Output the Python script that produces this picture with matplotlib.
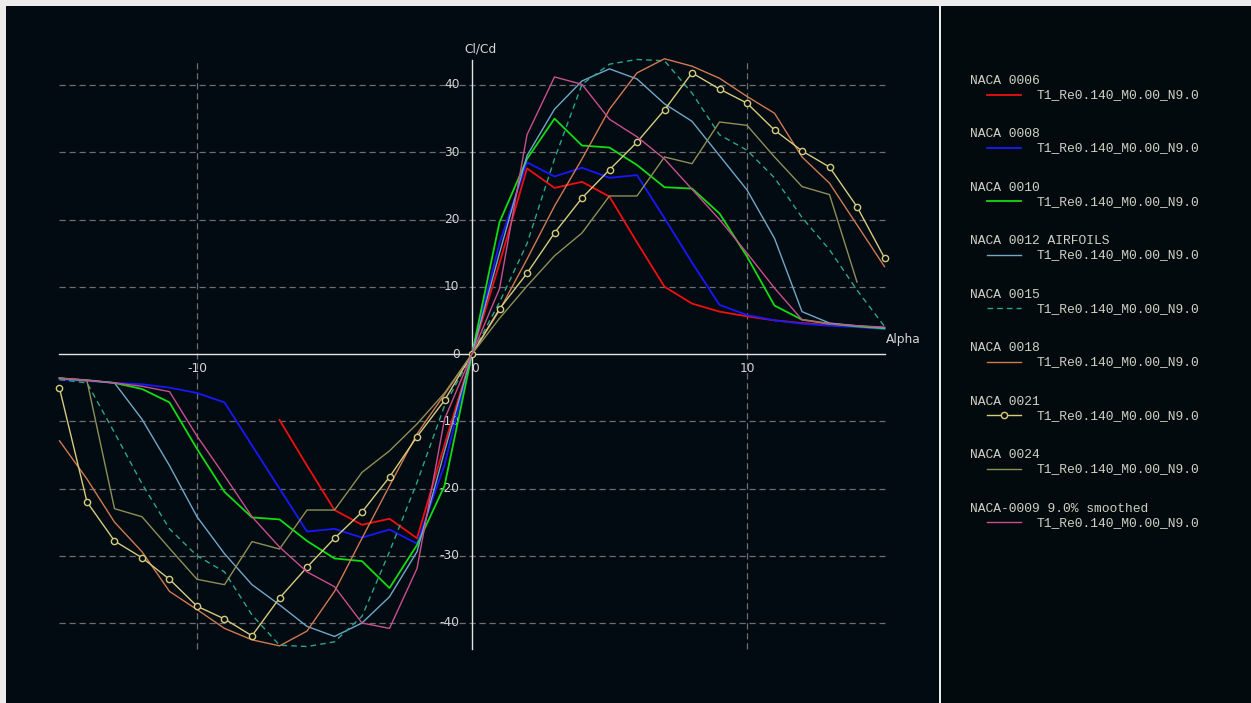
import numpy as np
import matplotlib
matplotlib.use("Agg")
import matplotlib.pyplot as plt

nan = np.nan

# angle of attack [deg]
ALPHA = list(range(-15, 16))

# Cl/Cd per foil (nan = no converged point)
NACA_0006 = [nan, nan, nan, nan, nan, nan, nan, nan, -9.8, -16.6, -23.2, -25.4, -24.5, -27.4, -13.5,
             0.0, 13.5, 27.6, 24.7, 25.6, 23.4, 16.6, 10.0, 7.5, 6.3, 5.6, 5.0, 4.6, 4.3, 4.1, 3.8]
NACA_0008 = [-3.8, -4.0, -4.3, -4.5, -5.0, -5.8, -7.2, -13.6, -20.0, -26.4, -26.0, -27.3, -26.1, -28.2, -16.5,
             0.0, 16.5, 28.5, 26.4, 27.7, 26.2, 26.6, 20.2, 13.6, 7.3, 5.8, 5.0, 4.5, 4.2, 4.0, 3.7]
NACA_0010 = [-3.6, -3.9, -4.3, -5.2, -7.2, -14.1, -20.5, -24.3, -24.6, -27.8, -30.4, -30.8, -34.8, -28.4, -19.6,
             0.0, 19.6, 29.0, 35.0, 31.0, 30.7, 28.1, 24.8, 24.6, 20.9, 14.5, 7.2, 5.1, 4.5, 4.1, 3.8]
NACA_0012 = [-3.6, -3.9, -4.3, -9.7, -16.6, -24.2, -29.7, -34.3, -37.3, -40.5, -42.0, -40.0, -36.1, -29.4, -14.5,
             0.0, 15.0, 29.5, 36.4, 40.6, 42.4, 40.9, 37.2, 34.6, 29.5, 24.4, 17.2, 6.3, 4.6, 4.2, 3.9]
NACA_0015 = [-3.8, -4.3, -11.7, -19.3, -26.0, -30.0, -32.4, -38.8, -43.3, -43.5, -42.8, -39.0, -29.4, -19.1, -7.7,
             0.0, 7.7, 16.4, 29.0, 40.1, 43.1, 43.8, 43.6, 38.8, 32.6, 30.3, 26.2, 20.3, 15.5, 9.5, 4.1]
NACA_0018 = [-12.9, -18.6, -25.0, -29.4, -35.3, -38.0, -40.8, -42.5, -43.4, -41.2, -35.3, -27.4, -19.6, -11.9, -6.0,
             0.0, 6.5, 14.1, 22.0, 29.0, 36.4, 41.8, 43.9, 42.8, 41.0, 38.3, 35.8, 29.3, 25.4, 19.2, 13.0]
NACA_0021 = [-5.1, -22.0, -27.8, -30.3, -33.5, -37.5, -39.4, -41.9, -36.3, -31.7, -27.4, -23.5, -18.3, -12.3, -6.9,
             0.0, 6.7, 12.0, 18.0, 23.2, 27.4, 31.5, 36.3, 41.8, 39.4, 37.3, 33.3, 30.2, 27.8, 21.9, 14.3]
NACA_0024 = [-3.6, -4.0, -23.0, -24.2, -28.9, -33.5, -34.3, -27.9, -29.0, -23.2, -23.2, -17.6, -14.4, -10.4, -5.8,
             0.0, 5.3, 10.1, 14.6, 18.0, 23.5, 23.5, 29.3, 28.3, 34.5, 34.0, 29.3, 24.9, 23.7, 10.7, nan]
NACA_0009S = [-3.6, -3.9, -4.3, -4.8, -5.6, -12.2, -18.1, -24.2, -28.7, -32.4, -34.6, -40.0, -40.8, -31.9, -9.7,
              0.0, 9.7, 32.6, 41.2, 40.1, 34.9, 32.3, 29.0, 24.5, 20.0, 15.0, 9.8, 5.1, 4.5, 4.2, 4.0]

FOIL_NAMES = ["NACA 0006", "NACA 0008", "NACA 0010", "NACA 0012 AIRFOILS", "NACA 0015",
              "NACA 0018", "NACA 0021", "NACA 0024", "NACA-0009 9.0% smoothed"]
POLAR_NAME = "T1_Re0.140_M0.00_N9.0"

X_TICKS = [-10, 0, 10]
Y_TICKS = [-40, -30, -20, -10, 0, 10, 20, 30, 40]

BG_PLOT = "#020a12"
BG_LEGEND = "#030a0d"
TXT = "#d6d6d6"
GRID = "#6e6e6e"

# (values, colour, linestyle, marker, linewidth)
SERIES = [
    (NACA_0006, "#f01010", "-", None, 1.3),
    (NACA_0008, "#1818ff", "-", None, 1.3),
    (NACA_0010, "#12dc12", "-", None, 1.3),
    (NACA_0012, "#70a8c8", "-", None, 1.0),
    (NACA_0015, "#28a888", (0, (4, 3)), None, 1.0),
    (NACA_0018, "#d07a52", "-", None, 1.0),
    (NACA_0021, "#d4cc7c", "-", "o", 1.0),
    (NACA_0024, "#8f8f55", "-", None, 1.0),
    (NACA_0009S, "#c8508e", "-", None, 1.0),
]


def bare(ax, bg):
    ax.set_facecolor(bg)
    ax.set_xticks([])
    ax.set_yticks([])
    for s in ax.spines.values():
        s.set_visible(False)


def main():
    W, H = 1251, 703
    fig = plt.figure(figsize=(W / 100, H / 100), dpi=100)
    fig.patch.set_facecolor("#ececec")

    # main plot panel, pixel box x 6..939, y 6..703 (from top); runs a bit past the bottom edge
    pad = 10
    ax = fig.add_axes([6 / W, -pad / H, 933 / W, (697 + pad) / H])
    bare(ax, BG_PLOT)
    px_per_deg, px_per_unit = 27.5, 6.725
    ax.set_xlim((6 - 472) / px_per_deg, (939 - 472) / px_per_deg)
    ax.set_ylim((354 - 703 - pad) / px_per_unit, (354 - 6) / px_per_unit)

    x0, x1 = -15, 15
    y0, y1 = -43.9, 43.7

    for y in Y_TICKS:
        if y == 0:
            continue
        ax.plot([x0, x1], [y, y], color=GRID, lw=0.9, ls=(0, (5, 3)), zorder=1)
    for x in X_TICKS:
        if x == 0:
            continue
        ax.plot([x, x], [y0, y1], color=GRID, lw=0.9, ls=(0, (5, 3)), zorder=1)
    ax.plot([x0, x1], [0, 0], color="#e4e4e4", lw=1.0, zorder=2)
    ax.plot([0, 0], [y0, y1], color="#e4e4e4", lw=1.0, zorder=2)

    # tick labels
    for y in Y_TICKS:
        ax.text(-0.45, y, f"{y}", color=TXT, fontsize=8.8, ha="right", va="center")
    for x in X_TICKS:
        ax.text(x + (0.12 if x == 0 else 0), -2.1, f"{x}", color=TXT,
                fontsize=8.8, ha="center", va="center")
    ax.text(0.3, 45.3, "Cl/Cd", color=TXT, fontsize=8.8, ha="center", va="center")
    ax.text(15.7, 2.2, "Alpha", color=TXT, fontsize=8.8, ha="center", va="center")

    for vals, col, ls, mk, lw in SERIES:
        ax.plot(ALPHA, vals, color=col, ls=ls, lw=lw, zorder=3,
                marker=mk, markersize=4.5, markerfacecolor=BG_PLOT,
                markeredgecolor=col, markeredgewidth=1.0)

    # legend panel in image pixel coordinates
    lg = fig.add_axes([941 / W, -pad / H, (W + pad - 941) / W, (697 + pad) / H])
    bare(lg, BG_LEGEND)
    lg.set_xlim(941, W + pad)
    lg.set_ylim(703 + pad, 6)

    for i, (name, (vals, col, ls, mk, lw)) in enumerate(zip(FOIL_NAMES, SERIES)):
        y = 81 + i * 53.46
        lg.text(970, y, name, color="#cfcfc4", fontsize=9.4,
                family="Liberation Mono", ha="left", va="center")
        lg.plot([987, 1021], [y + 13.5, y + 13.5], color=col, ls=ls, lw=lw)
        if mk:
            lg.plot([1004], [y + 13.5], marker=mk, markersize=4.5,
                    markerfacecolor=BG_LEGEND, markeredgecolor=col, markeredgewidth=1.0)
        lg.text(1037, y + 14, POLAR_NAME, color="#cfcfc4", fontsize=9.4,
                family="Liberation Mono", ha="left", va="center")

    fig.savefig("out.png", dpi=100, facecolor=fig.get_facecolor())


if __name__ == "__main__":
    main()
